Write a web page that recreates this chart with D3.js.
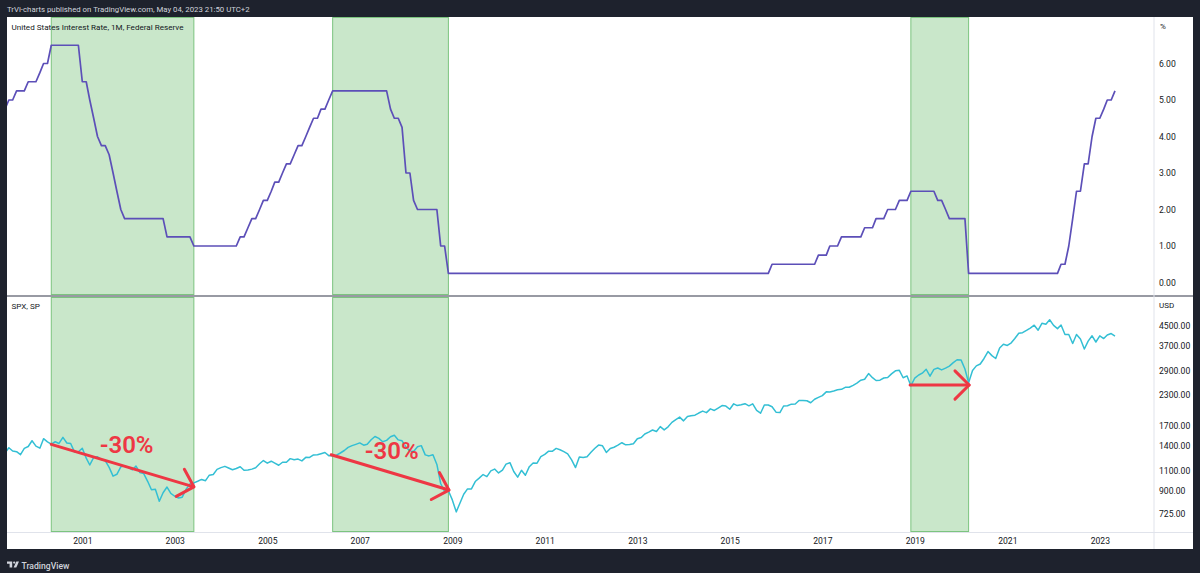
<!DOCTYPE html>
<html><head><meta charset="utf-8">
<script src="https://cdn.jsdelivr.net/npm/d3@7"></script>
<style>
html,body{margin:0;padding:0;background:#1e222d;}
svg{display:block;}
text{font-family:Roboto,"Noto Sans",sans-serif;}
</style></head>
<body>
<svg id="c" width="1200" height="573"></svg>
<script>
// ---------- DATA ----------
const startMonth = "1999-05-01"; // first monthly bar
const yearTicks = ["2001","2003","2005","2007","2009","2011","2013","2015","2017","2019","2021","2023"];
const rateTicks = [0,1,2,3,4,5,6];
const spxTicks = [725,900,1100,1400,1700,2300,2900,3700,4500];

// United States Interest Rate (upper target), monthly close, May 1999 – May 2023
const rateValues = [
  4.75,5,5,5.25,5.25,5.25,5.5,5.5,                        // 1999 May-Dec
  5.5,5.75,6,6,6.5,6.5,6.5,6.5,6.5,6.5,6.5,6.5,            // 2000
  5.5,5.5,5,4.5,4,3.75,3.75,3.5,3,2.5,2,1.75,              // 2001
  1.75,1.75,1.75,1.75,1.75,1.75,1.75,1.75,1.75,1.75,1.25,1.25, // 2002
  1.25,1.25,1.25,1.25,1.25,1,1,1,1,1,1,1,                  // 2003
  1,1,1,1,1,1.25,1.25,1.5,1.75,1.75,2,2.25,                // 2004
  2.25,2.5,2.75,2.75,3,3.25,3.25,3.5,3.75,3.75,4,4.25,     // 2005
  4.5,4.5,4.75,4.75,5,5.25,5.25,5.25,5.25,5.25,5.25,5.25,  // 2006
  5.25,5.25,5.25,5.25,5.25,5.25,5.25,5.25,4.75,4.5,4.5,4.25, // 2007
  3,3,2.25,2,2,2,2,2,2,1,1,0.25,                           // 2008
  0.25,0.25,0.25,0.25,0.25,0.25,0.25,0.25,0.25,0.25,0.25,0.25, // 2009
  0.25,0.25,0.25,0.25,0.25,0.25,0.25,0.25,0.25,0.25,0.25,0.25, // 2010
  0.25,0.25,0.25,0.25,0.25,0.25,0.25,0.25,0.25,0.25,0.25,0.25, // 2011
  0.25,0.25,0.25,0.25,0.25,0.25,0.25,0.25,0.25,0.25,0.25,0.25, // 2012
  0.25,0.25,0.25,0.25,0.25,0.25,0.25,0.25,0.25,0.25,0.25,0.25, // 2013
  0.25,0.25,0.25,0.25,0.25,0.25,0.25,0.25,0.25,0.25,0.25,0.25, // 2014
  0.25,0.25,0.25,0.25,0.25,0.25,0.25,0.25,0.25,0.25,0.25,0.5,  // 2015
  0.5,0.5,0.5,0.5,0.5,0.5,0.5,0.5,0.5,0.5,0.5,0.75,           // 2016
  0.75,0.75,1,1,1,1.25,1.25,1.25,1.25,1.25,1.25,1.5,          // 2017
  1.5,1.5,1.75,1.75,1.75,2,2,2,2.25,2.25,2.25,2.5,            // 2018
  2.5,2.5,2.5,2.5,2.5,2.5,2.25,2.25,2,1.75,1.75,1.75,         // 2019
  1.75,1.75,0.25,0.25,0.25,0.25,0.25,0.25,0.25,0.25,0.25,0.25, // 2020
  0.25,0.25,0.25,0.25,0.25,0.25,0.25,0.25,0.25,0.25,0.25,0.25, // 2021
  0.25,0.25,0.5,0.5,1,1.75,2.5,2.5,3.25,3.25,4,4.5,           // 2022
  4.5,4.75,5,5,5.25                                            // 2023 Jan-May
];

// S&P 500 monthly close, May 1999 – May 2023
const spxValues = [
  1301.8,1372.7,1328.7,1320.4,1282.7,1362.9,1388.9,1469.3,                 // 1999 May-Dec
  1394.5,1366.4,1498.6,1452.4,1420.6,1454.6,1430.8,1517.7,1436.5,1429.4,1315.0,1320.3, // 2000
  1366.0,1239.9,1160.3,1249.5,1255.8,1224.4,1211.2,1133.6,1040.9,1059.8,1139.5,1148.1, // 2001
  1130.2,1106.7,1147.4,1076.9,1067.1,989.8,911.6,916.1,815.3,885.8,936.3,879.8,        // 2002
  855.7,841.2,848.2,916.9,963.6,974.5,990.3,1008.0,996.0,1050.7,1058.2,1111.9,         // 2003
  1131.1,1144.9,1126.2,1107.3,1120.7,1140.8,1101.7,1104.2,1114.6,1130.2,1173.8,1211.9, // 2004
  1181.3,1203.6,1180.6,1156.9,1191.5,1191.3,1234.2,1220.3,1228.8,1207.0,1249.5,1248.3, // 2005
  1280.1,1280.7,1294.9,1310.6,1270.1,1270.2,1276.7,1303.8,1335.9,1377.9,1400.6,1418.3, // 2006
  1438.2,1406.8,1420.9,1482.4,1530.6,1503.4,1455.3,1474.0,1526.8,1549.4,1481.1,1468.4, // 2007
  1378.6,1330.6,1322.7,1385.6,1400.4,1280.0,1267.4,1282.8,1166.4,968.8,896.2,903.3,    // 2008
  825.9,735.1,797.9,872.8,919.1,919.3,987.5,1020.6,1057.1,1036.2,1095.6,1115.1,        // 2009
  1073.9,1104.5,1169.4,1186.7,1089.4,1030.7,1101.6,1049.3,1141.2,1183.3,1180.6,1257.6, // 2010
  1286.1,1327.2,1325.8,1363.6,1345.2,1320.6,1292.3,1218.9,1131.4,1253.3,1247.0,1257.6, // 2011
  1312.4,1365.7,1408.5,1397.9,1310.3,1362.2,1379.3,1406.6,1440.7,1412.2,1416.2,1426.2, // 2012
  1498.1,1514.7,1569.2,1597.6,1630.7,1606.3,1685.7,1633.0,1681.6,1756.5,1805.8,1848.4, // 2013
  1782.6,1859.5,1872.3,1884.0,1923.6,1960.2,1930.7,2003.4,1972.3,2018.1,2067.6,2058.9, // 2014
  1995.0,2104.5,2067.9,2085.5,2107.4,2063.1,2103.8,1972.2,1920.0,2079.4,2080.4,2043.9, // 2015
  1940.2,1932.2,2059.7,2065.3,2097.0,2098.9,2173.6,2171.0,2168.3,2126.2,2198.8,2238.8, // 2016
  2278.9,2363.6,2362.7,2384.2,2411.8,2423.4,2470.3,2471.7,2519.4,2575.3,2647.6,2673.6, // 2017
  2823.8,2713.8,2640.9,2648.1,2705.3,2718.4,2816.3,2901.5,2914.0,2711.7,2760.2,2506.9, // 2018
  2704.1,2784.5,2834.4,2945.8,2752.1,2941.8,2980.4,2926.5,2976.7,3037.6,3141.0,3230.8, // 2019
  3225.5,2954.2,2584.6,2912.4,3044.3,3100.3,3271.1,3500.3,3363.0,3270.0,3621.6,3756.1, // 2020
  3714.2,3811.2,3972.9,4181.2,4204.1,4297.5,4395.3,4522.7,4307.5,4605.4,4567.0,4766.2, // 2021
  4515.6,4373.9,4530.4,4131.9,4132.2,3785.4,4130.3,3955.0,3585.6,3872.0,4080.1,3839.5, // 2022
  4076.6,3970.2,4109.3,4169.5,4070.0                                                   // 2023 Jan-May
];

// shaded easing periods [from, to]
const shadeStarts = ["2000-05-01","2006-06-01","2018-12-01"];
const shadeEnds   = ["2003-06-01","2008-12-01","2020-03-01"];

// red arrows on SPX: [startDate, startValue, endDate, endValue]
const arrowFrom  = [["2000-05-01",1418],["2006-05-20",1282],["2018-11-25",2526]];
const arrowTo    = [["2003-06-01",938],["2008-12-05",909],["2020-03-05",2526]];
const labelText  = ["-30%","-30%"];
const labelAt    = [["2001-05-18",1306],["2007-02-10",1225]];

const headerText = "TrVi-charts published on TradingView.com, May 04, 2023 21:50 UTC+2";
const topTitle = "United States Interest Rate, 1M, Federal Reserve";
const botTitle = "SPX, SP";

// ---------- LAYOUT ----------
const W = 1200, H = 573;
const L = 7, R = 1193, axisX = 1154;
const topY0 = 17, sepY = 296, botY1 = 532.5, bottomY = 549;
const red = "#ee3744";

const svg = d3.select("#c");
const parse = d3.utcParse("%Y-%m-%d");
const start = parse(startMonth);
const months = rateValues.map((_, i) => d3.utcMonth.offset(start, i));

const x = d3.scaleUtc()
  .domain([parse("2001-01-01"), parse("2023-01-01")])
  .range([82.3, 1099.8]);
const yRate = d3.scaleLinear().domain([0, 6]).range([282.5, 63.5]);
const ySpx = d3.scaleLog().domain([725, 4500]).range([513.3, 325.7]);

// backgrounds
svg.append("rect").attr("x",0).attr("y",0).attr("width",W).attr("height",H).attr("fill","#1e222d");
svg.append("rect").attr("x",L).attr("y",topY0).attr("width",R-L).attr("height",bottomY-topY0).attr("fill","#ffffff");

svg.append("text").attr("x",7).attr("y",11.5).attr("fill","#d1d4dc")
  .attr("font-size","7.8px").text(headerText);

const defs = svg.append("defs");
defs.append("clipPath").attr("id","clipTop").append("rect")
  .attr("x",L).attr("y",topY0).attr("width",axisX-L).attr("height",sepY-topY0);
defs.append("clipPath").attr("id","clipBot").append("rect")
  .attr("x",L).attr("y",sepY).attr("width",axisX-L).attr("height",botY1-sepY);

// shaded regions (one rect per pane)
const shades = shadeStarts.map((s,i)=>({a:parse(s), b:parse(shadeEnds[i])}));
[[topY0+0.5, sepY-1.5],[sepY+1.5, botY1-1]].forEach(([y0,y1])=>{
  svg.append("g").selectAll("rect").data(shades).join("rect")
    .attr("x", d=>x(d.a)).attr("width", d=>x(d.b)-x(d.a))
    .attr("y", y0).attr("height", y1-y0)
    .attr("fill","rgba(76,175,80,0.3)")
    .attr("stroke","#7cc47f").attr("stroke-width",1);
});

// separators
svg.append("line").attr("x1",L).attr("x2",R).attr("y1",sepY).attr("y2",sepY)
  .attr("stroke","#767985").attr("stroke-width",1.3);
svg.append("line").attr("x1",L).attr("x2",R).attr("y1",botY1).attr("y2",botY1)
  .attr("stroke","#e0e3eb").attr("stroke-width",1);
svg.append("line").attr("x1",axisX).attr("x2",axisX).attr("y1",topY0).attr("y2",bottomY)
  .attr("stroke","#e0e3eb").attr("stroke-width",1);

// lines
const rateLine = d3.line().x((d,i)=>x(months[i])).y(d=>yRate(d));
svg.append("path").attr("clip-path","url(#clipTop)")
  .attr("d", rateLine(rateValues)).attr("fill","none")
  .attr("stroke","#5c4fb8").attr("stroke-width",1.7).attr("stroke-linejoin","round");

const spxLine = d3.line().x((d,i)=>x(months[i])).y(d=>ySpx(d));
svg.append("path").attr("clip-path","url(#clipBot)")
  .attr("d", spxLine(spxValues)).attr("fill","none")
  .attr("stroke","#33bfd4").attr("stroke-width",1.5).attr("stroke-linejoin","round");

// axes
function styleAxis(g){
  g.select(".domain").remove();
  g.selectAll(".tick line").remove();
  g.selectAll("text").attr("fill","#131722").attr("font-size","8.6px")
    .attr("font-family","Roboto,'Noto Sans',sans-serif");
}
svg.append("g").attr("transform",`translate(${axisX},0)`)
  .call(d3.axisRight(yRate).tickValues(rateTicks).tickSize(0).tickPadding(5).tickFormat(d3.format(".2f")))
  .call(styleAxis);
svg.append("g").attr("transform",`translate(${axisX},0)`)
  .call(d3.axisRight(ySpx).tickValues(spxTicks).tickSize(0).tickPadding(5).tickFormat(d3.format(".2f")))
  .call(styleAxis);
svg.append("g").attr("transform",`translate(0,${botY1})`)
  .call(d3.axisBottom(x).tickValues(yearTicks.map(y=>parse(y+"-01-01"))).tickSize(0).tickPadding(5.5).tickFormat(d3.utcFormat("%Y")))
  .call(styleAxis);

svg.append("text").attr("x",1160).attr("y",29).attr("font-size","8px").attr("fill","#131722").text("%");
svg.append("text").attr("x",1159).attr("y",308).attr("font-size","8px").attr("fill","#131722").text("USD");

// titles
svg.append("text").attr("x",11.5).attr("y",30).attr("font-size","8.1px").attr("fill","#131722").text(topTitle);
svg.append("text").attr("x",11.5).attr("y",309).attr("font-size","8.1px").attr("fill","#131722").text(botTitle);

// arrows
const arrows = arrowFrom.map((f,i)=>({
  x1:x(parse(f[0])), y1:ySpx(f[1]), x2:x(parse(arrowTo[i][0])), y2:ySpx(arrowTo[i][1])
}));
const ag = svg.append("g").attr("stroke",red).attr("stroke-width",3).attr("fill","none")
  .attr("stroke-linecap","round").attr("stroke-linejoin","round");
arrows.forEach(a=>{
  const ang = Math.atan2(a.y2-a.y1, a.x2-a.x1);
  const hl = 20, spread = Math.PI/4;
  const p1 = [a.x2 - hl*Math.cos(ang-spread), a.y2 - hl*Math.sin(ang-spread)];
  const p2 = [a.x2 - hl*Math.cos(ang+spread), a.y2 - hl*Math.sin(ang+spread)];
  ag.append("path").attr("d", d3.line()([[a.x1,a.y1],[a.x2,a.y2]]));
  ag.append("path").attr("d", d3.line()([p1,[a.x2,a.y2],p2]));
});
svg.append("g").selectAll("text").data(labelAt).join("text")
  .attr("x", d=>x(parse(d[0]))).attr("y", d=>ySpx(d[1]))
  .attr("fill",red).attr("font-size","24px").attr("font-weight","600")
  .attr("font-family","'Open Sans',sans-serif")
  .text((d,i)=>labelText[i]);

// TradingView logo
const logo = svg.append("g").attr("transform","translate(7,561.5)").attr("fill","#d1d4dc");
logo.append("path").attr("d","M0 0H5.2V6H2.6V2.2H0Z");
logo.append("circle").attr("cx",7.2).attr("cy",1.1).attr("r",1.1);
logo.append("path").attr("d","M9.3 0H12L9.3 6H6.6Z");
svg.append("text").attr("x",21.5).attr("y",569).attr("fill","#d1d4dc")
  .attr("font-size","8.6px").attr("font-weight","500").text("TradingView");
</script>
</body></html>
